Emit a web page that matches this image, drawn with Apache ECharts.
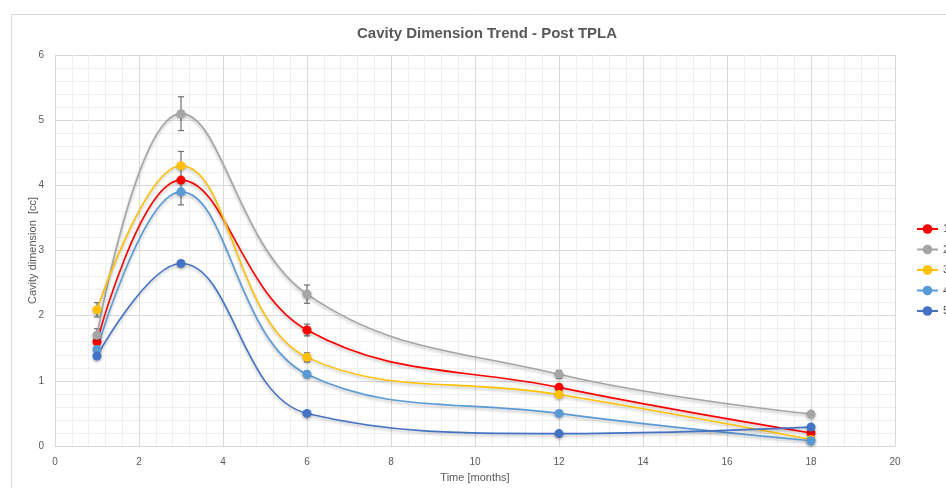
<!DOCTYPE html>
<html>
<head>
<meta charset="utf-8">
<script src="https://cdn.jsdelivr.net/npm/echarts@6/dist/echarts.min.js"></script>
<style>html,body{margin:0;padding:0;background:#fff;}#c{width:946px;height:488px;}</style>
</head>
<body>
<div id="c"></div>
<script>
// ---- data ----
var months = [1, 3, 6, 12, 18];
var seriesNames = ['1', '2', '3', '4', '5'];
var s1 = [1.6, 4.08, 1.78, 0.9, 0.2];
var s2 = [1.7, 5.1, 2.33, 1.1, 0.49];
var s3 = [2.09, 4.3, 1.36, 0.79, 0.1];
var s4 = [1.48, 3.9, 1.1, 0.5, 0.08];
var s5 = [1.38, 2.8, 0.5, 0.19, 0.29];
// error bar half-widths (null = none)
var e1 = [null, null, 0.09, null, null];
var e2 = [0.1, 0.26, 0.14, 0.06, null];
var e3 = [0.11, 0.22, 0.07, null, null];
var e4 = [null, 0.2, 0.05, null, null];
var e5 = [null, null, null, null, null];
var xTicks = [0, 20, 2];
var yTicks = [0, 6, 1];

var colors = ['#FF0000', '#A5A5A5', '#FFC000', '#5B9BD5', '#4472C4'];
var vals = [s1, s2, s3, s4, s5];
var errs = [e1, e2, e3, e4, e5];

var chart = echarts.init(document.getElementById('c'));
var font = 'Liberation Sans';
var series = [];
vals.forEach(function (v, i) {
  series.push({
    name: seriesNames[i],
    type: 'line',
    smooth: 0.4,
    data: months.map(function (m, k) { return [m, v[k]]; }),
    symbol: 'circle',
    symbolSize: 9,
    z: 3,
    lineStyle: { width: 1.6, color: colors[i], shadowColor: 'rgba(0,0,0,0.25)', shadowBlur: 3, shadowOffsetY: 2 },
    itemStyle: { color: colors[i], shadowColor: 'rgba(0,0,0,0.3)', shadowBlur: 3, shadowOffsetY: 1.5 }
  });
});
var errData = [];
vals.forEach(function (v, i) {
  months.forEach(function (m, k) {
    if (errs[i][k] != null) errData.push([m, v[k] - errs[i][k], v[k] + errs[i][k]]);
  });
});
series.push({
  type: 'custom',
  z: 2,
  silent: true,
  data: errData,
  encode: { x: 0, y: [1, 2] },
  renderItem: function (params, api) {
    var lo = api.coord([api.value(0), api.value(1)]);
    var hi = api.coord([api.value(0), api.value(2)]);
    var w = 3;
    var st = { stroke: '#707070', lineWidth: 1.2 };
    return {
      type: 'group',
      children: [
        { type: 'line', shape: { x1: lo[0], y1: lo[1], x2: hi[0], y2: hi[1] }, style: st },
        { type: 'line', shape: { x1: lo[0] - w, y1: lo[1], x2: lo[0] + w, y2: lo[1] }, style: st },
        { type: 'line', shape: { x1: hi[0] - w, y1: hi[1], x2: hi[0] + w, y2: hi[1] }, style: st }
      ]
    };
  }
});

chart.setOption({
  animation: false,
  backgroundColor: '#fff',
  graphic: [{
    type: 'rect', left: 9, top: 12, shape: { width: 950, height: 490 },
    style: { fill: 'none', stroke: '#d9d9d9', lineWidth: 1 }, z: -10
  }],
  title: {
    text: 'Cavity Dimension Trend - Post TPLA',
    left: 352, top: 21,
    textStyle: { fontFamily: font, fontSize: 15, fontWeight: 'bold', color: '#595959' }
  },
  legend: {
    orient: 'vertical', left: 916, top: 223, itemGap: 8.5, itemWidth: 21, itemHeight: 12,
    padding: 0,
    data: seriesNames,
    textStyle: { fontFamily: font, fontSize: 11, color: '#595959', lineHeight: 12 }
  },
  grid: { left: 55, right: 51, top: 55, bottom: 40, containLabel: false },
  xAxis: {
    type: 'value', min: xTicks[0], max: xTicks[1], interval: xTicks[2],
    name: 'Time [months]', nameLocation: 'middle', nameGap: 26, nameMoveOverlap: false,
    nameTextStyle: { fontFamily: font, fontSize: 11, color: '#595959' },
    axisLine: { lineStyle: { color: '#d9d9d9' } },
    axisTick: { show: false },
    axisLabel: { fontFamily: font, fontSize: 10, color: '#595959', margin: 11 },
    splitLine: { lineStyle: { color: '#d9d9d9' } },
    minorTick: { show: false, splitNumber: 5 },
    minorSplitLine: { show: true, lineStyle: { color: '#f0f0f0' } }
  },
  yAxis: {
    type: 'value', min: yTicks[0], max: yTicks[1], interval: yTicks[2],
    name: 'Cavity dimension  [cc]', nameLocation: 'middle', nameGap: 17, nameMoveOverlap: false,
    nameTextStyle: { fontFamily: font, fontSize: 11, color: '#595959' },
    axisLine: { show: true, lineStyle: { color: '#d9d9d9' } },
    axisTick: { show: false },
    axisLabel: { fontFamily: font, fontSize: 10, color: '#595959', margin: 11 },
    splitLine: { lineStyle: { color: '#d9d9d9' } },
    minorTick: { show: false, splitNumber: 5 },
    minorSplitLine: { show: true, lineStyle: { color: '#f0f0f0' } }
  },
  series: series
});
</script>
</body>
</html>
